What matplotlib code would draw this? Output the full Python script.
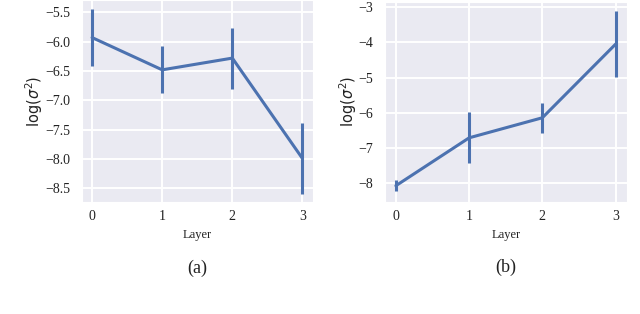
import numpy as np
import matplotlib
matplotlib.use("Agg")
import matplotlib.pyplot as plt
import seaborn as sns

layers = [0, 1, 2, 3]

# (a)
mean_a = [-5.93, -6.48, -6.28, -7.99]
err_a = [0.48, 0.40, 0.52, 0.60]
yticks_a = [-8.5, -8.0, -7.5, -7.0, -6.5, -6.0, -5.5]

# (b)
mean_b = [-8.07, -6.71, -6.14, -4.05]
err_b = [0.16, 0.72, 0.42, 0.94]
yticks_b = [-8, -7, -6, -5, -4, -3]

sns.set_style("darkgrid")
plt.rcParams['font.family'] = ['Liberation Serif', 'DejaVu Serif']
plt.rcParams['grid.linewidth'] = 1.4
blue = sns.color_palette("deep")[0]

fig = plt.figure(figsize=(6.4, 3.14), dpi=100)
ax_a = fig.add_axes([0.128, 0.357, 0.361, 0.643])
ax_b = fig.add_axes([0.602, 0.357, 0.377, 0.638])


def draw(ax, mean, err, ylim, yticks, fmt, label):
    ax.errorbar(layers, mean, yerr=err, color=blue, lw=2.2, elinewidth=2.2, capsize=0)
    ax.set_xlim(-0.145, 3.15)
    ax.set_ylim(*ylim)
    ax.set_xticks(layers)
    ax.set_yticks(yticks)
    ax.set_yticklabels([fmt.format(t).replace("-", "\u2212") for t in yticks])
    ax.tick_params(labelsize=10, pad=5, labelcolor="#222222")
    ax.tick_params(axis="x", pad=2.5)
    ax.set_xlabel("Layer", fontsize=9, labelpad=4, color="#222222")
    ax.set_ylabel(r"$\log(\sigma^2)$", fontsize=10.5, family="DejaVu Sans",
                  color="#222222", labelpad=0)
    ax.text(0.5, -0.327, label, transform=ax.transAxes, ha="center", va="center",
            fontsize=13, color="#222222")


draw(ax_a, mean_a, err_a, (-8.73, -5.29), yticks_a, "{:.1f}", "(a)")
draw(ax_b, mean_b, err_b, (-8.53, -2.84), yticks_b, "{:g}", "(b)")

fig.savefig("out.png", dpi=100)
